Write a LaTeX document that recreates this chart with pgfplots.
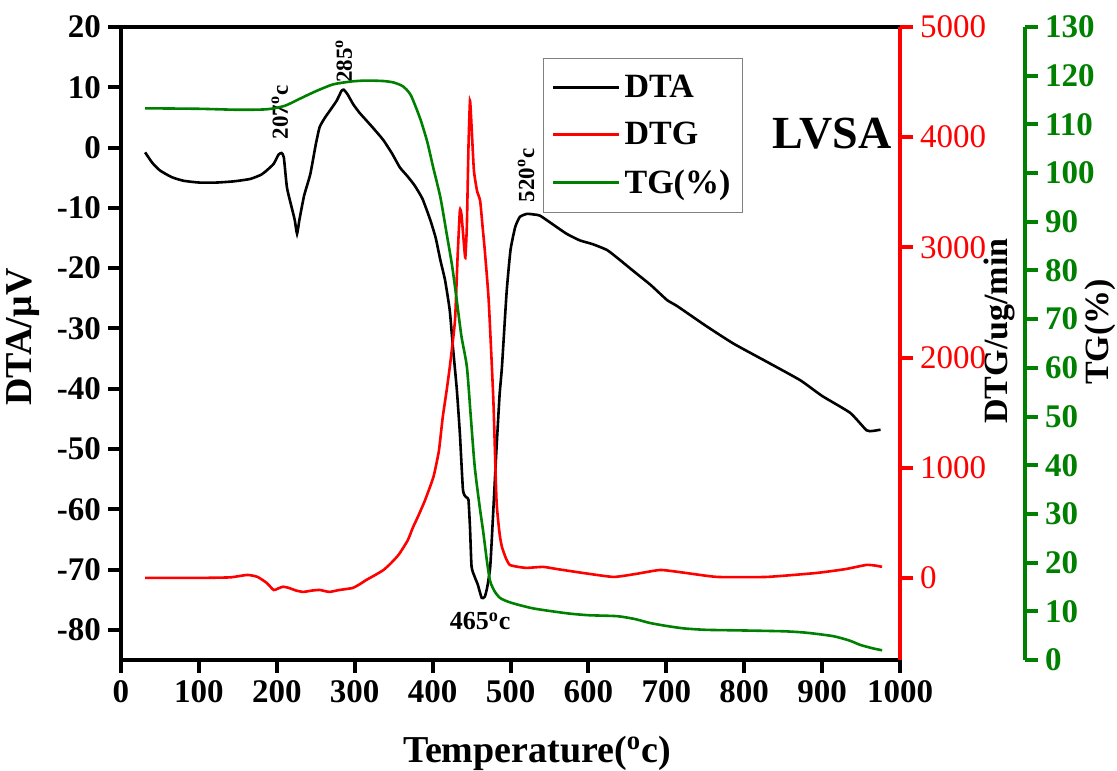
\documentclass[border=0pt]{standalone}
\usepackage{pgfplots}
\pgfplotsset{compat=1.18}
\usepackage{fontspec}
\setmainfont{Liberation Serif}
\definecolor{tggreen}{RGB}{0,128,0}
\definecolor{dtgred}{RGB}{255,0,0}
\newcommand{\fs}[1]{\fontsize{#1}{#1}\selectfont}
\begin{document}
\begin{tikzpicture}
\useasboundingbox (-60.5pt,-55pt) rectangle (498pt,330pt);
\pgfplotsset{
  base/.style={
    scale only axis, width=389.5pt, height=316.5pt,
    xmin=0, xmax=1000,
    clip mode=individual,
    tick align=outside,
    major tick length=6.5pt,
    /pgf/number format/assume math mode=true,
    /pgf/number format/1000 sep={},
  },
}
% ---------------- DTA ----------------
\begin{axis}[base,
  ymin=-85, ymax=20,
  ytick={-80,-70,...,20},
  xtick={0,100,...,1000},
  xtick pos=bottom, ytick pos=left,
  axis line style={black, line width=2pt},
  every tick/.style={black, line width=2pt},
  tick label style={font=\fs{16.5}\bfseries},
  legend style={at={(0.5417,0.951)}, anchor=north west, draw=gray, line width=0.6pt,
    font=\fs{17}\bfseries, inner xsep=4pt, inner ysep=6pt, row sep=7pt,
    cells={anchor=west}},
  legend image code/.code={\draw[#1, line width=1.5pt] (0pt,0pt) -- (33pt,0pt);},
]
\addplot[black, line width=1.3pt, smooth, tension=0.3] coordinates {
(31,-0.8) (40,-2.5) (50,-3.8) (65,-4.9) (80,-5.5) (100,-5.8) (123,-5.8) (145,-5.6)
(166,-5.2) (180,-4.5) (187,-3.8) (196,-2.7) (202,-1.2) (206,-0.9) (209,-1.6) (213,-6.6)
(219,-9.9) (223,-12.0) (226,-14.3) (229,-12.0) (235,-8.0) (243,-4.4) (250,0.5) (255,3.4)
(262,5.0) (268,6.1) (277,7.8) (283,9.4) (286,9.6) (291,8.8) (298,7.2) (306,5.8)
(315,4.5) (326,2.9) (337,1.2) (348,-1.0) (358,-3.3) (368,-4.8) (377,-6.3) (387,-8.5)
(397,-12) (404,-15) (410,-18.7) (416,-22) (422,-27) (426,-33) (431,-40) (435,-47.4)
(439,-56.8) (443,-58.0) (446,-58.4) (448,-63) (450,-69.5) (454,-71.2) (458,-72.5)
(463,-74.7) (467,-74.5) (470,-73) (474,-69.5) (478,-60) (482,-50) (486,-41) (489,-36.4)
(495,-24) (500,-17) (506,-13.2) (512,-11.5) (521,-11) (530,-11.1) (538,-11.3)
(555,-12.8) (572,-14.3) (589,-15.4) (605,-16) (624,-17) (640,-18.6) (657,-20.4)
(680,-22.8) (701,-25.3) (714,-26.3) (750,-29.5) (786,-32.5) (830,-35.6) (872,-38.6)
(900,-41.2) (936,-44) (957,-46.9) (965,-47) (975,-46.8)
};
\addlegendentry{DTA}
\addlegendimage{dtgred, line width=1.5pt}
\addlegendentry{DTG}
\addlegendimage{tggreen, line width=1.5pt}
\addlegendentry{TG(\%)}
\node[rotate=90, font=\fs{11.5}\bfseries] at (axis cs:204,5.8) {207\textsuperscript{o}c};
\node[rotate=90, font=\fs{11.5}\bfseries] at (axis cs:286,14.4) {285\textsuperscript{o}};
\node[rotate=90, font=\fs{11.5}\bfseries] at (axis cs:520,-4.6) {520\textsuperscript{o}c};
\node[font=\fs{13}\bfseries] at (axis cs:461,-78.6) {465\textsuperscript{o}c};
\end{axis}
% ---------------- DTG ----------------
\begin{axis}[base,
  ymin=-745, ymax=5000,
  ytick={0,1000,...,5000},
  axis y line*=right, axis x line=none,
  y axis line style={dtgred, line width=2pt},
  every tick/.style={dtgred, line width=2pt},
  yticklabel style={font=\fs{16.5}, text=dtgred},
]
\addplot[dtgred, line width=1.3pt, smooth, tension=0.3] coordinates {
(31,0) (60,0) (100,0) (140,5) (162,27) (175,10) (187,-45) (196,-110) (202,-95) (208,-80)
(215,-90) (225,-115) (234,-127) (245,-115) (255,-109) (262,-120) (268,-127) (280,-110)
(290,-100) (298,-90) (307,-55) (315,-18) (326,25) (337,72) (346,130) (354,190) (358,226)
(368,340) (375,462) (381,553) (390,700) (401,915) (408,1150) (413,1458) (418,1700)
(422,1911) (426,2150) (429,2364) (432,2900) (435,3333) (437,3300) (440,3050) (442,2908)
(444,3200) (446,3900) (448,4330) (450,4100) (453,3700) (457,3514) (461,3424) (464,3200)
(467,2971) (472,2518) (478,1612) (482,706) (486,400) (489,281) (494,180) (499,118)
(510,100) (521,91) (542,100) (560,80) (593,45) (632,9) (660,35) (692,72) (720,50)
(765,9) (829,9) (893,45) (930,80) (957,118) (970,110) (977,100)
};
\end{axis}
% ---------------- TG data ----------------
\begin{axis}[base, hide axis, ymin=0, ymax=130]
\addplot[tggreen, line width=1.3pt, smooth, tension=0.4] coordinates {
(31,113.3) (100,113.2) (150,113.0) (187,113.1) (210,113.8) (230,115.3) (250,116.8)
(272,118.2) (295,118.8) (315,119.0) (337,118.9) (350,118.6) (362,117.8) (372,116.0) (384,111.2)
(393,106.5) (401,101) (410,95) (418,87.6) (425,81) (431,73.9) (437,66.5) (444,60.2)
(449,50) (454,39.8) (460,32) (465,26.3) (470,20) (474,16.1) (480,14) (487,12.7)
(500,11.8) (529,10.6) (572,9.6) (600,9.2) (637,9) (660,8.4) (679,7.6) (700,7)
(722,6.5) (750,6.2) (786,6.1) (850,5.9) (880,5.6) (914,4.9) (935,4) (949,3.1)
(965,2.4) (977,2)
};
\end{axis}
% ---------------- TG scale (shifted) ----------------
\begin{axis}[base, at={(62.5pt,0pt)},
  ymin=0, ymax=130, ytick={0,10,...,130},
  axis y line*=right, axis x line=none,
  y axis line style={tggreen, line width=2pt},
  every tick/.style={tggreen, line width=2pt},
  yticklabel style={font=\fs{16.5}\bfseries, text=tggreen},
]
\end{axis}
% ---------------- labels ----------------
\node[font=\fs{19}\bfseries] at (208pt,-46.5pt) {Temperature(\textsuperscript{o}c)};
\node[rotate=90, font=\fs{19}\bfseries] at (-49pt,161.5pt) {DTA/μV};
\node[rotate=90, font=\fs{17}\bfseries] at (439pt,164.5pt) {DTG/ug/min};
\node[rotate=90, font=\fs{17}\bfseries] at (489.5pt,164pt) {TG(\%)};
\node[font=\fs{23}\bfseries] at (355.5pt,263pt) {LVSA};
\end{tikzpicture}
\end{document}
